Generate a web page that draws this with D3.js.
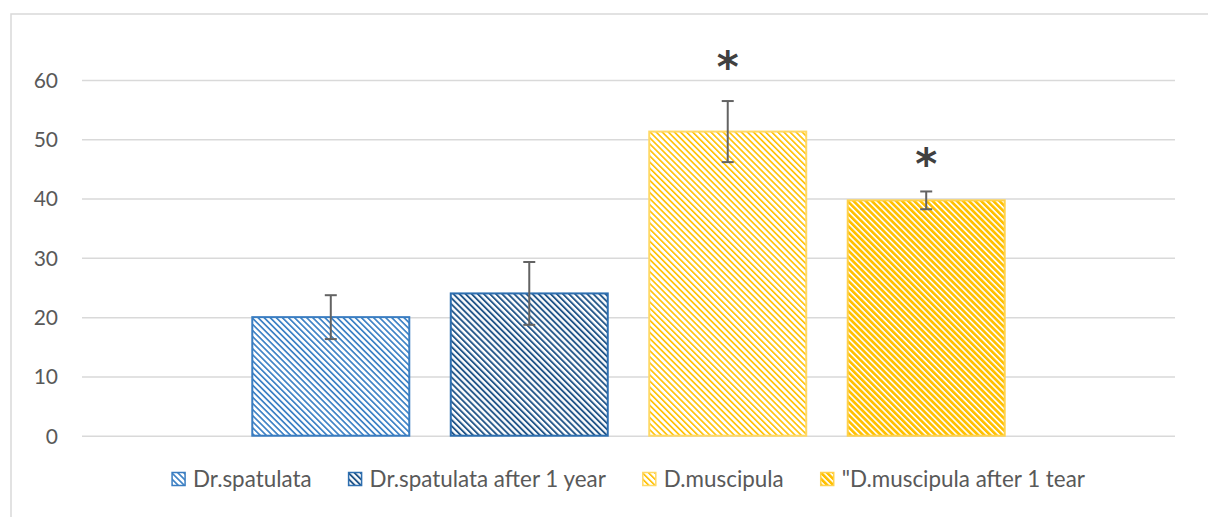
<!DOCTYPE html>
<html>
<head>
<meta charset="utf-8">
<script src="https://cdn.jsdelivr.net/npm/d3@7"></script>
<style>
  html, body { margin: 0; padding: 0; background: #fff; }
  svg { display: block; }
</style>
</head>
<body>
<svg id="chart" width="1208" height="517"></svg>
<script>
// ---- data ----
const series = ["Dr.spatulata", "Dr.spatulata after 1 year", "D.muscipula", "\"D.muscipula after 1 tear"];
const values = [20.0, 24.0, 51.3, 39.7];
const errors = [3.7, 5.3, 5.15, 1.5];
const starLevels = [null, null, 63.2, 46.8];
const yTicks = [0, 10, 20, 30, 40, 50, 60];

// ---- styles ----
const stripeColors = ["#3f83c6", "#24578a", "#ffc000", "#ffc000"];
const stripeWidths = [1.7, 1.9, 1.6, 2.7];
const borderColors = ["#3a7dc1", "#2e6fb0", "#ffd966", "#ffd24d"];
const font = "Lato, 'Open Sans', sans-serif";
const textColor = "#595959";

const svg = d3.select("#chart");
const plot = { left: 82, right: 1175, top: 80, bottom: 435.7 };

// outer frame (extends beyond the visible area on right/bottom)
svg.append("rect").attr("x", 11).attr("y", 14).attr("width", 1230).attr("height", 540)
  .attr("fill", "#fff").attr("stroke", "#d9d9d9").attr("stroke-width", 1.5);

// patterns
const defs = svg.append("defs");
series.forEach((s, i) => {
  const p = defs.append("pattern").attr("id", "pat" + i)
    .attr("patternUnits", "userSpaceOnUse").attr("width", 4.3).attr("height", 4.3)
    .attr("patternTransform", "rotate(-45)");
  p.append("rect").attr("width", 4.3).attr("height", 4.3).attr("fill", "#fff");
  p.append("rect").attr("x", 0).attr("y", 0).attr("width", stripeWidths[i]).attr("height", 4.3)
    .attr("fill", stripeColors[i]);
});

const x = d3.scaleBand().domain(series).range([plot.left, plot.right])
  .paddingInner(0.209).paddingOuter(0.858);
const y = d3.scaleLinear().domain([0, 60]).range([plot.bottom, plot.top]);

// gridlines + y axis labels
const yAxis = d3.axisLeft(y).tickValues(yTicks).tickSize(-(plot.right - plot.left)).tickPadding(24);
const gy = svg.append("g").attr("transform", `translate(${plot.left},0)`).call(yAxis);
gy.select(".domain").remove();
gy.selectAll(".tick line").attr("stroke", "#d9d9d9").attr("stroke-width", 1.5);
gy.selectAll(".tick text").attr("fill", textColor).attr("font-family", font)
  .attr("font-size", 21).attr("dy", "0.35em");

// bars
const bars = svg.append("g");
series.forEach((s, i) => {
  bars.append("rect")
    .attr("x", x(s)).attr("width", x.bandwidth())
    .attr("y", y(values[i])).attr("height", y(0) - y(values[i]))
    .attr("fill", `url(#pat${i})`).attr("stroke", borderColors[i]).attr("stroke-width", 2);
});

// error bars
const eb = svg.append("g").attr("stroke", "#636363").attr("stroke-width", 2).attr("fill", "none");
series.forEach((s, i) => {
  const cx = x(s) + x.bandwidth() / 2;
  const y1 = y(values[i] + errors[i]), y2 = y(values[i] - errors[i]);
  eb.append("line").attr("x1", cx).attr("x2", cx).attr("y1", y1).attr("y2", y2);
  eb.append("line").attr("x1", cx - 6).attr("x2", cx + 6).attr("y1", y1).attr("y2", y1);
  eb.append("line").attr("x1", cx - 6).attr("x2", cx + 6).attr("y1", y2).attr("y2", y2);
});

// significance stars
series.forEach((s, i) => {
  if (starLevels[i] == null) return;
  svg.append("text").attr("x", x(s) + x.bandwidth() / 2).attr("y", y(starLevels[i]))
    .attr("text-anchor", "middle").attr("dy", "0.5em")
    .attr("font-family", "'DejaVu Sans', sans-serif").attr("font-weight", "bold")
    .attr("font-size", 42).attr("fill", "#404040").text("*");
});

// legend
const legend = svg.append("g");
const sw = 13, gapSwText = 8, gapItems = 37, legY = 479;
const items = series.map((s, i) => {
  const g = legend.append("g");
  g.append("rect").attr("x", 0).attr("y", legY - sw / 2).attr("width", sw).attr("height", sw)
    .attr("fill", `url(#pat${i})`).attr("stroke", borderColors[i]).attr("stroke-width", 1.5);
  const t = g.append("text").attr("x", sw + gapSwText).attr("y", legY).attr("dy", "0.35em")
    .attr("font-family", font).attr("font-size", 22.4).attr("fill", textColor).text(s);
  return { g, w: sw + gapSwText + t.node().getComputedTextLength() };
});
const totalW = d3.sum(items, d => d.w) + gapItems * (items.length - 1);
let cx0 = (plot.left + plot.right) / 2 - totalW / 2;
items.forEach(d => { d.g.attr("transform", `translate(${cx0},0)`); cx0 += d.w + gapItems; });
</script>
</body>
</html>
